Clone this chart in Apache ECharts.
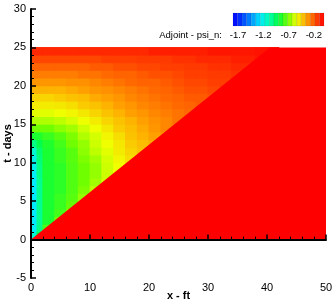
<!DOCTYPE html>
<html>
<head>
<meta charset="utf-8">
<script src="https://cdn.jsdelivr.net/npm/echarts@6/dist/echarts.min.js"></script>
<style>html,body{margin:0;padding:0;background:#fff;}#chart{width:336px;height:301px;}</style>
</head>
<body>
<div id="chart"></div>
<script>
// time rows (days) and x cells (ft)
const tEdges = [0,1,2,3,4,5,6,7,8,9,10,11,12,13,14,15,16,17,18,19,20,21,22,23,24,25];
const xEdges = [0,1,2,4,6,8,10,12,14,16,18,20,22,24,26,28,30,32,34,36,38,40,42];
// adjoint psi_n behind the front, one row per day, cells from x = 0 up to the front
const psiRows = [
  [-1.15, -0.90],
  [-1.24, -1.01, -0.79],
  [-1.26, -1.03, -0.86, -0.72],
  [-1.26, -1.03, -0.86, -0.79, -0.68],
  [-1.26, -1.03, -0.86, -0.81, -0.74, -0.65],
  [-1.26, -1.03, -0.86, -0.81, -0.76, -0.67],
  [-1.26, -1.03, -0.86, -0.83, -0.77, -0.70, -0.61],
  [-1.26, -1.03, -0.86, -0.83, -0.77, -0.72, -0.65, -0.58],
  [-1.24, -1.01, -0.86, -0.83, -0.77, -0.72, -0.67, -0.59, -0.54],
  [-1.22, -1.01, -0.86, -0.83, -0.77, -0.72, -0.67, -0.59, -0.54, -0.49],
  [-1.21, -0.99, -0.86, -0.81, -0.76, -0.70, -0.65, -0.58, -0.52, -0.47],
  [-1.15, -0.97, -0.86, -0.81, -0.76, -0.68, -0.61, -0.56, -0.50, -0.45, -0.41],
  [-1.01, -0.92, -0.85, -0.79, -0.72, -0.67, -0.59, -0.54, -0.49, -0.43, -0.40, -0.36],
  [-0.86, -0.85, -0.81, -0.76, -0.70, -0.63, -0.58, -0.52, -0.47, -0.41, -0.38, -0.34, -0.31],
  [-0.72, -0.72, -0.72, -0.68, -0.65, -0.59, -0.54, -0.49, -0.43, -0.40, -0.36, -0.32, -0.29, -0.27],
  [-0.63, -0.63, -0.63, -0.61, -0.58, -0.54, -0.50, -0.45, -0.41, -0.38, -0.34, -0.31, -0.29, -0.25],
  [-0.56, -0.56, -0.56, -0.54, -0.52, -0.49, -0.45, -0.41, -0.38, -0.34, -0.32, -0.29, -0.27, -0.25, -0.23],
  [-0.50, -0.50, -0.50, -0.49, -0.47, -0.43, -0.41, -0.38, -0.34, -0.32, -0.29, -0.27, -0.25, -0.23, -0.22, -0.20],
  [-0.45, -0.45, -0.45, -0.43, -0.41, -0.40, -0.36, -0.34, -0.32, -0.29, -0.27, -0.25, -0.23, -0.22, -0.20, -0.20, -0.18],
  [-0.38, -0.38, -0.38, -0.38, -0.36, -0.34, -0.32, -0.31, -0.29, -0.27, -0.25, -0.23, -0.22, -0.20, -0.18, -0.18, -0.16, -0.14],
  [-0.32, -0.32, -0.32, -0.32, -0.31, -0.31, -0.29, -0.27, -0.25, -0.23, -0.22, -0.22, -0.20, -0.18, -0.16, -0.16, -0.14, -0.14, -0.13],
  [-0.27, -0.27, -0.27, -0.27, -0.27, -0.25, -0.25, -0.23, -0.22, -0.22, -0.20, -0.18, -0.18, -0.16, -0.14, -0.14, -0.13, -0.13, -0.11],
  [-0.22, -0.22, -0.22, -0.22, -0.22, -0.22, -0.20, -0.20, -0.18, -0.18, -0.16, -0.16, -0.14, -0.14, -0.13, -0.13, -0.11, -0.11, -0.09, -0.09],
  [-0.16, -0.16, -0.16, -0.16, -0.16, -0.16, -0.16, -0.14, -0.14, -0.14, -0.13, -0.13, -0.13, -0.11, -0.11, -0.09, -0.09, -0.09, -0.07, -0.07, -0.05],
  [-0.09, -0.09, -0.09, -0.09, -0.09, -0.09, -0.09, -0.09, -0.09, -0.09, -0.09, -0.07, -0.07, -0.07, -0.07, -0.07, -0.05, -0.05, -0.05, -0.05, -0.04, -0.04]
];
// front line (x, t) and the value ahead of it
const frontX = [0, 40.5];
const frontT = [0, 25];
const psiAhead = 0;
const domainX = [0, 50];
const domainT = [0, 25];
// colour legend
const legendBands = [-1.8, -1.71, -1.62, -1.53, -1.44, -1.35, -1.26, -1.17, -1.08, -0.99, -0.9, -0.81, -0.72, -0.63, -0.54, -0.45, -0.36, -0.27, -0.18, -0.09, 0];
const legendTicks = [-1.7, -1.2, -0.7, -0.2];

const FONT = "'Liberation Sans', Arial, Helvetica, sans-serif";

const fieldData = [];
psiRows.forEach(function (row, r) {
  row.forEach(function (v, c) {
    fieldData.push([xEdges[c], xEdges[c + 1], tEdges[r], tEdges[r + 1], v]);
  });
});
const bandData = [];
for (let i = 0; i < legendBands.length - 1; i++) {
  bandData.push([legendBands[i], legendBands[i + 1], 0, 1, (legendBands[i] + legendBands[i + 1]) / 2]);
}

function cellItem(params, api) {
  const p0 = api.coord([api.value(0), api.value(3)]);
  const p1 = api.coord([api.value(1), api.value(2)]);
  const c = api.visual('color');
  return {
    type: 'rect',
    shape: { x: p0[0] - 0.4, y: p0[1] - 0.4, width: p1[0] - p0[0] + 0.8, height: p1[1] - p0[1] + 0.8 },
    style: { fill: c }
  };
}
function bandItem(params, api) {
  const p0 = api.coord([api.value(0), api.value(3)]);
  const p1 = api.coord([api.value(1), api.value(2)]);
  return {
    type: 'rect',
    shape: { x: p0[0], y: p0[1], width: p1[0] - p0[0], height: p1[1] - p0[1] },
    style: { fill: api.visual('color'), stroke: 'rgba(0,0,0,0.15)', lineWidth: 0.6 }
  };
}
function aheadItem(params, api) {
  const pts = [
    api.coord([frontX[0], frontT[0]]),
    api.coord([frontX[1], frontT[1]]),
    api.coord([domainX[1], domainT[1]]),
    api.coord([domainX[1], domainT[0]])
  ];
  return { type: 'polygon', shape: { points: pts }, style: { fill: api.visual('color') } };
}

const axisCommon = {
  axisLine: { show: true, lineStyle: { color: '#000', width: 2 } },
  axisTick: { show: true, inside: true, length: 5, lineStyle: { color: '#000', width: 1.5 } },
  minorTick: { show: true, splitNumber: 5, length: 3, lineStyle: { color: '#000', width: 1 } },
  splitLine: { show: false },
  nameMoveOverlap: false,
  z: 10
};

const chart = echarts.init(document.getElementById('chart'), null, { renderer: 'canvas' });
chart.setOption({
  animation: false,
  backgroundColor: '#fff',
  textStyle: { fontFamily: FONT },
  grid: [
    { left: 31, right: 10, top: 9, bottom: 23, containLabel: false, outerBoundsMode: 'none' },
    { left: 233, top: 13, width: 91, height: 13, containLabel: false, outerBoundsMode: 'none' }
  ],
  xAxis: [
    Object.assign({
      type: 'value', gridIndex: 0, min: 0, max: 50, interval: 10,
      name: 'x - ft', nameLocation: 'middle', nameGap: 12,
      nameTextStyle: { fontWeight: 'bold', fontSize: 11, color: '#000', fontFamily: FONT },
      axisLabel: { fontSize: 11, color: '#000', margin: 4, fontFamily: FONT }
    }, axisCommon),
    {
      type: 'value', gridIndex: 1, min: -1.8, max: 0,
      axisLine: { show: false }, axisTick: { show: false }, splitLine: { show: false },
      axisLabel: { customValues: legendTicks, fontSize: 9.5, color: '#000', margin: 4, fontFamily: FONT,
        formatter: function (v) { return v.toFixed(1); } },
      name: 'Adjoint - psi_n:', nameLocation: 'start', nameGap: 11, nameMoveOverlap: false,
      nameTextStyle: { fontSize: 9.5, color: '#000', verticalAlign: 'top', padding: [4, 0, 0, 0], fontFamily: FONT }
    }
  ],
  yAxis: [
    Object.assign({
      type: 'value', gridIndex: 0, min: -5, max: 30, interval: 5,
      name: 't - days', nameLocation: 'middle', nameGap: 18,
      nameTextStyle: { fontWeight: 'bold', fontSize: 11, color: '#000', fontFamily: FONT },
      axisLabel: { fontSize: 11, color: '#000', margin: 5, fontFamily: FONT }
    }, axisCommon),
    { type: 'value', gridIndex: 1, min: 0, max: 1, show: false }
  ],
  visualMap: {
    type: 'continuous', show: false, min: -1.8, max: 0, dimension: 4, seriesIndex: [0, 1, 2],
    inRange: { color: ['#0000ff', '#0040ff', '#0090ff', '#00eaff', '#00ffb0', '#00ff40', '#70ff00', '#f0ff00', '#ffaa00', '#ff5000', '#ff0000'] }
  },
  series: [
    { type: 'custom', xAxisIndex: 0, yAxisIndex: 0, renderItem: cellItem, data: fieldData, clip: true },
    { type: 'custom', xAxisIndex: 0, yAxisIndex: 0, renderItem: aheadItem, data: [[0, 0, 0, 0, psiAhead]], clip: true },
    { type: 'custom', xAxisIndex: 1, yAxisIndex: 1, renderItem: bandItem, data: bandData }
  ]
});
</script>
</body>
</html>
